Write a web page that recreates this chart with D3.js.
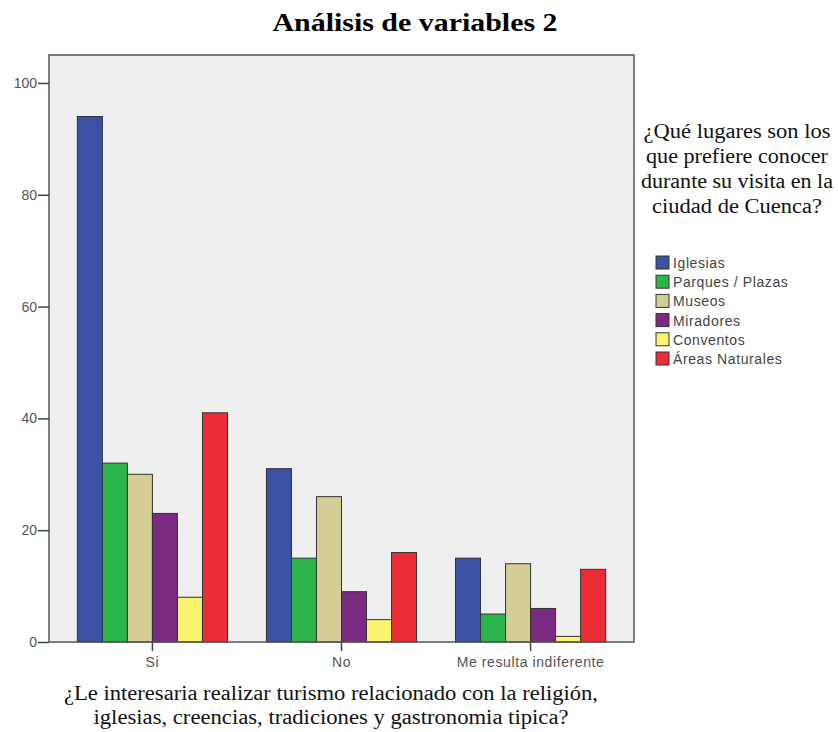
<!DOCTYPE html>
<html>
<head>
<meta charset="utf-8">
<script src="https://cdn.jsdelivr.net/npm/d3@7"></script>
<style>
  body { margin: 0; background: #fff; }
  svg { display: block; }
</style>
</head>
<body>
<svg id="chart"></svg>
<script>
// data
var categories = ["Si", "No", "Me resulta indiferente"];
var seriesNames = ["Iglesias", "Parques / Plazas", "Museos", "Miradores", "Conventos", "Áreas Naturales"];
var iglesias = [94, 31, 15];
var parques = [32, 15, 5];
var museos = [30, 26, 14];
var miradores = [23, 9, 6];
var conventos = [8, 4, 1];
var areas = [41, 16, 13];
var yTicks = [0, 20, 40, 60, 80, 100];

var series = [iglesias, parques, museos, miradores, conventos, areas];
var colors = ["#3a53a4", "#2db44a", "#d4cd96", "#7a2a80", "#f9f570", "#ec2d35"];

var width = 838, height = 732;
var margin = { top: 55, right: 204, bottom: 90, left: 49 };
var plotW = width - margin.left - margin.right;
var plotH = height - margin.top - margin.bottom;

var serif = "'Liberation Serif', 'Times New Roman', serif";
var sans = "'Liberation Sans', Arial, sans-serif";

var svg = d3.select("#chart")
  .attr("width", width)
  .attr("height", height);

// the source picture is a bit stretched sideways, so long texts get a fixed length
function stretchedText(sel, x, y, str, size, len) {
  return sel.append("text")
    .attr("x", x)
    .attr("y", y)
    .attr("textLength", len)
    .attr("lengthAdjust", "spacingAndGlyphs")
    .style("text-anchor", "middle")
    .style("font-family", serif)
    .style("font-size", size + "px")
    .attr("fill", "#111")
    .text(str);
}

// title
stretchedText(svg, 415, 31, "Análisis de variables 2", 25, 285)
  .style("font-weight", "bold")
  .attr("fill", "#000");

var g = svg.append("g")
  .attr("transform", "translate(" + margin.left + "," + margin.top + ")");

// scales
var x0 = d3.scaleBand().domain(categories).range([0, plotW])
  .paddingInner(0.206).paddingOuter(0.15);
var x1 = d3.scaleBand().domain(d3.range(seriesNames.length)).range([0, x0.bandwidth()]);
var y = d3.scaleLinear().domain([0, 105]).range([plotH, 0]);

// plot background
g.append("rect")
  .attr("width", plotW)
  .attr("height", plotH)
  .attr("fill", "#efefef");

// bars
var groups = g.selectAll("g.cat").data(categories).enter().append("g")
  .attr("class", "cat")
  .attr("transform", d => "translate(" + x0(d) + ",0)");

groups.selectAll("rect")
  .data((c, ci) => series.map((s, si) => ({ si: si, v: s[ci] })))
  .enter().append("rect")
    .attr("x", d => x1(d.si))
    .attr("y", d => y(d.v))
    .attr("width", x1.bandwidth())
    .attr("height", d => y(0) - y(d.v))
    .attr("fill", d => colors[d.si])
    .attr("stroke", "#333")
    .attr("stroke-width", 1);

// frame
g.append("rect")
  .attr("width", plotW)
  .attr("height", plotH)
  .attr("fill", "none")
  .attr("stroke", "#555")
  .attr("stroke-width", 1.5);

// axes
var yAxis = g.append("g")
  .call(d3.axisLeft(y).tickValues(yTicks).tickSize(11).tickPadding(1));
var xAxis = g.append("g")
  .attr("transform", "translate(0," + plotH + ")")
  .call(d3.axisBottom(x0).tickSize(9).tickPadding(6));

[yAxis, xAxis].forEach(function (a) {
  a.select(".domain").remove();
  a.selectAll("line").attr("stroke", "#444").attr("stroke-width", 1.5);
  a.selectAll("text")
    .attr("fill", "#555")
    .style("font-family", sans)
    .style("font-size", "14px");
});
xAxis.selectAll("text").style("letter-spacing", "0.6px");

// x axis title
var xTitle = ["¿Le interesaria realizar turismo relacionado con la religión,",
              "iglesias, creencias, tradiciones y gastronomia tipica?"];
var xTitleLen = [534, 475];
xTitle.forEach(function (t, i) {
  stretchedText(svg, 331, 700 + i * 24, t, 20, xTitleLen[i]);
});

// legend title
var legendTitle = ["¿Qué lugares son los", "que prefiere conocer",
                   "durante su visita en la", "ciudad de Cuenca?"];
var legendTitleLen = [187, 182, 192, 170];
legendTitle.forEach(function (t, i) {
  stretchedText(svg, 737, 138 + i * 25, t, 20, legendTitleLen[i]);
});

// legend items
var legend = svg.append("g")
  .attr("transform", "translate(656,256)");
var item = legend.selectAll("g").data(seriesNames).enter().append("g")
  .attr("transform", (d, i) => "translate(0," + i * 19.2 + ")");
item.append("rect")
  .attr("width", 13)
  .attr("height", 13)
  .attr("fill", (d, i) => colors[i])
  .attr("stroke", "#333");
item.append("text")
  .attr("x", 17)
  .attr("y", 12)
  .attr("fill", "#444")
  .style("font-family", sans)
  .style("font-size", "14px")
  .style("letter-spacing", "0.6px")
  .text(d => d);
</script>
</body>
</html>
